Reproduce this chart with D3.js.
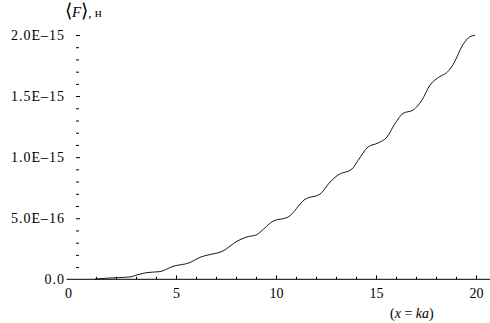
<!DOCTYPE html>
<html>
<head>
<meta charset="utf-8">
<script src="https://cdn.jsdelivr.net/npm/d3@7"></script>
<style>
  html, body { margin: 0; padding: 0; background: #fff; }
  svg { display: block; }
</style>
</head>
<body>
<svg id="chart" width="490" height="323"></svg>
<script>
// ka values (x) and mean force <F> in newtons
const kaValues = [0.95, 1.7, 2.7, 3.05, 3.55, 4.2, 4.85, 5.7, 6.2, 6.55, 7.35, 8.05, 8.55, 9.05, 9.2, 9.85, 10.6, 11.45, 12.2, 12.7, 13.1, 13.8, 14.1, 14.6, 15.1, 15.55, 15.95, 16.35, 16.85, 17.3, 17.7, 18.2, 18.55, 18.85, 19.35, 19.7, 19.95];
const forceValues = [0.02e-16, 0.11e-16, 0.19e-16, 0.36e-16, 0.55e-16, 0.63e-16, 1.06e-16, 1.37e-16, 1.80e-16, 1.97e-16, 2.32e-16, 3.12e-16, 3.47e-16, 3.66e-16, 3.85e-16, 4.76e-16, 5.09e-16, 6.55e-16, 6.97e-16, 7.96e-16, 8.54e-16, 9.03e-16, 9.72e-16, 10.83e-16, 11.16e-16, 11.65e-16, 12.75e-16, 13.58e-16, 13.85e-16, 14.68e-16, 15.9e-16, 16.6e-16, 16.94e-16, 17.57e-16, 19.22e-16, 19.86e-16, 19.97e-16];
const xMajorTicks = [0, 5, 10, 15, 20];
const xMinorTicks = [1, 2, 3, 4, 6, 7, 8, 9, 11, 12, 13, 14, 16, 17, 18, 19];
const yMajorTicks = [0, 5e-16, 10e-16, 15e-16, 20e-16];
const yMinorTicks = [1,2,3,4,6,7,8,9,11,12,13,14,16,17,18,19].map(k => k * 1e-16);

const SERIF = "'Liberation Serif', 'Times New Roman', serif";

const svg = d3.select("#chart");
const x = d3.scaleLinear().domain([0, 20]).range([76, 476]);
const y = d3.scaleLinear().domain([0, 2e-15]).range([279.3, 35]);

const fmtY = v => v === 0 ? "0.0" :
  d3.format(".1e")(v).replace("e", "E").replace(/[\u2212-]/, "\u2013");

// x axis line
svg.append("line")
  .attr("x1", x(-0.47)).attr("x2", 490)
  .attr("y1", y(0)).attr("y2", y(0))
  .attr("stroke", "#000").attr("stroke-width", 1);

// x axis major ticks with labels
const gx = svg.append("g").attr("transform", `translate(0,${y(0)})`)
  .call(d3.axisBottom(x).tickValues(xMajorTicks).tickSize(-4).tickPadding(9).tickFormat(d3.format("d")));
gx.select(".domain").remove();
gx.selectAll(".tick").filter(d => d === 0).select("line").remove();
gx.selectAll(".tick").filter(d => d === 0).select("text").attr("dx", -8);

// x axis minor ticks
const gxm = svg.append("g").attr("transform", `translate(0,${y(0)})`)
  .call(d3.axisBottom(x).tickValues(xMinorTicks).tickSize(-2.5).tickFormat(""));
gxm.select(".domain").remove();

// y axis major ticks with labels
const gy = svg.append("g").attr("transform", `translate(${x(0)},0)`)
  .call(d3.axisLeft(y).tickValues(yMajorTicks).tickSize(-4).tickPadding(11).tickFormat(fmtY));
gy.select(".domain").remove();
gy.selectAll("text").style("letter-spacing", "1px");
gy.selectAll(".tick").filter(d => d === 0).select("line").remove();

// y axis minor ticks
const gym = svg.append("g").attr("transform", `translate(${x(0)},0)`)
  .call(d3.axisLeft(y).tickValues(yMinorTicks).tickSize(-3).tickFormat(""));
gym.select(".domain").remove();

svg.selectAll("g").attr("font-family", null).attr("font-size", null);
svg.selectAll(".tick text").style("font-family", SERIF).style("font-size", "14px").attr("fill", "#000");
svg.selectAll(".tick line").attr("stroke", "#000").attr("stroke-width", 1);

// curve
const line = d3.line()
  .x((d, i) => x(kaValues[i]))
  .y(d => y(d))
  .curve(d3.curveMonotoneX);
svg.append("path")
  .datum(forceValues)
  .attr("d", line)
  .attr("fill", "none")
  .attr("stroke", "#000")
  .attr("stroke-width", 0.9);

// y title: <F>, н
const yt = svg.append("text").attr("x", 65).attr("y", 17).style("font-family", SERIF);
yt.append("tspan").text("\u27E8").style("font-size", "19px");
yt.append("tspan").text("F").style("font-style", "italic").style("font-size", "15px");
yt.append("tspan").text("\u27E9").style("font-size", "19px");
yt.append("tspan").text(", \u043D").style("font-size", "13px");

// x title: (x = ka)
const xt = svg.append("text").attr("x", 390).attr("y", 318).style("font-family", SERIF).style("font-size", "14px");
xt.append("tspan").text("(");
xt.append("tspan").text("x").style("font-style", "italic");
xt.append("tspan").text(" = ");
xt.append("tspan").text("ka").style("font-style", "italic");
xt.append("tspan").text(")");
</script>
</body>
</html>
